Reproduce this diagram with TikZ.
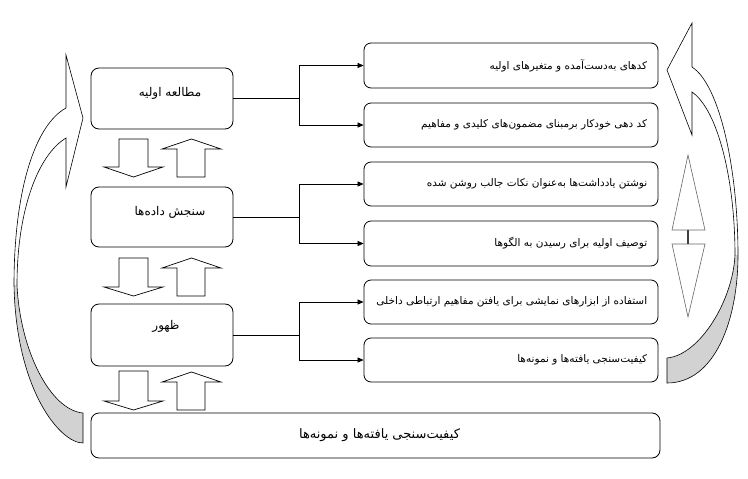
\documentclass[tikz,border=0pt]{standalone}
\usepackage{fontspec}
\newfontfamily\fa[Script=Arabic]{DejaVu Sans}
\TeXXeTstate=1
\usetikzlibrary{arrows.meta}
\newcommand{\DnBlk}[3]{\draw[blk] (119,#1) -- (148,#1) -- (148,#2) -- (163,#2) -- (133.5,#3) -- (104,#2) -- (119,#2) -- cycle;}
\newcommand{\UpBlk}[3]{\draw[blk] (177,#3) -- (205,#3) -- (205,#2) -- (221,#2) -- (191.5,#1) -- (162,#2) -- (177,#2) -- cycle;}
\begin{document}
\begin{tikzpicture}[x=1pt,y=-1pt,
  box/.style={draw, rounded corners=8pt, line width=0.8pt, inner sep=0pt},
  lbox/.style={box, minimum width=142pt, minimum height=61pt},
  rbox/.style={box, rounded corners=7pt, minimum width=294pt, minimum height=44pt},
  txt/.style={font=\fa\fontsize{10.5}{12}\selectfont, inner sep=0pt},
  ltxt/.style={font=\fa\fontsize{12}{14}\selectfont, inner sep=0pt},
  btxt/.style={font=\fa\fontsize{13}{15}\selectfont, inner sep=0pt},
  conn/.style={line width=0.7pt},
  arr/.style={conn, -{Triangle[length=6pt,width=5pt]}},
  blk/.style={draw, line width=0.7pt, fill=white, line join=miter},
  curv/.style={draw, line width=0.6pt, line join=miter},
]
\useasboundingbox (0,0) rectangle (748,479);
\fill[white] (0,0) rectangle (748,479);

% left boxes
\node[lbox, label={[ltxt,xshift=8pt,yshift=5.5pt]center:{\beginR مطالعه اولیه\endR}}] (s1) at (162,98.5) {};
\node[lbox, minimum height=60pt, label={[ltxt,xshift=8pt,yshift=5pt]center:{\beginR سنجش داده‌ها\endR}}] (s2) at (162,217) {};
\node[lbox, minimum height=62pt, label={[ltxt,xshift=4pt,yshift=9pt]center:{\beginR ظهور\endR}}] (s3) at (162,335) {};
\node[box, minimum width=569pt, minimum height=45pt, label={[btxt,xshift=4pt]center:{\beginR کیفیت‌سنجی یافته‌ها و نمونه‌ها\endR}}] (sb) at (375.5,435.5) {};

% right boxes
\node[rbox, minimum height=45pt, label={[txt,anchor=east,xshift=-11pt]east:{\beginR کدهای به‌دست‌آمده و متغیرهای اولیه\endR}}] (rA) at (511,65.5) {};
\node[rbox, label={[txt,anchor=east,xshift=-11pt]east:{\beginR کد دهی خودکار برمبنای  مضمون‌های کلیدی و مفاهیم\endR}}] (rB) at (511,125) {};
\node[rbox, label={[txt,anchor=east,xshift=-11pt]east:{\beginR نوشتن یادداشت‌ها به‌عنوان نکات جالب روشن شده\endR}}] (rC) at (511,184) {};
\node[rbox, minimum height=45pt, label={[txt,anchor=east,xshift=-11pt]east:{\beginR توصیف اولیه برای رسیدن به الگوها\endR}}] (rD) at (511,243.5) {};
\node[rbox, label={[txt,anchor=east,xshift=-11pt]east:{\beginR استفاده  از ابزارهای نمایشی برای یافتن مفاهیم ارتباطی داخلی\endR}}] (rE) at (511,302) {};
\node[rbox, label={[txt,anchor=east,xshift=-11pt]east:{\beginR کیفیت‌سنجی یافته‌ها و نمونه‌ها\endR}}] (rF) at (511,360) {};

% connectors
\coordinate (j1) at (299,98.5);
\coordinate (j2) at (299,217);
\coordinate (j3) at (299,335);
\draw[conn] (s1.east) -- (j1);
\draw[arr] (j1) |- (rA.west);
\draw[arr] (j1) |- (rB.west);
\draw[conn] (s2.east) -- (j2);
\draw[arr] (j2) |- (rC.west);
\draw[arr] (j2) |- (rD.west);
\draw[conn] (s3.east) -- (j3);
\draw[arr] (j3) |- (rE.west);
\draw[arr] (j3) |- (rF.west);

% block arrows between left boxes
\DnBlk{139}{167}{177}
\UpBlk{139}{149}{177}
\DnBlk{258}{287}{296}
\UpBlk{258}{268}{296}
\DnBlk{371}{401}{410}
\UpBlk{372}{382}{410}

% left curved arrow
\fill[gray!35] (14,285) .. controls (16,390) and (60,443) .. (83,443) -- (83,413) .. controls (50,410) and (20,350) .. (17,285) -- cycle;
\draw[curv] (66,108) .. controls (35,125) and (14,190) .. (14,285) .. controls (16,390) and (60,443) .. (83,443) -- (83,413) .. controls (50,410) and (20,350) .. (17,285) .. controls (17,210) and (38,155) .. (66,138) -- (66,187) -- (83,118) -- (66,55) -- cycle;

% right curved arrow
\fill[gray!35] (738,255) .. controls (738,320) and (715,383) .. (667,383) -- (667,358) .. controls (700,355) and (733,300) .. (735,255) -- cycle;
\draw[curv] (692,67) .. controls (720,85) and (738,170) .. (738,255) .. controls (738,320) and (715,383) .. (667,383) -- (667,358) .. controls (700,355) and (733,300) .. (735,255) .. controls (735,180) and (718,110) .. (692,92) -- (692,135) -- (667,70) -- (692,23) -- cycle;

% double triangle
\draw[line width=0.6pt, draw=gray!80!black] (688,155) -- (705,230) -- (672,230) -- cycle;
\draw[line width=0.6pt, draw=gray!80!black] (672,244) -- (705,244) -- (688,317) -- cycle;
\draw[line width=1.8pt, draw=black!75] (688,230) -- (688,244);
\end{tikzpicture}
\end{document}
